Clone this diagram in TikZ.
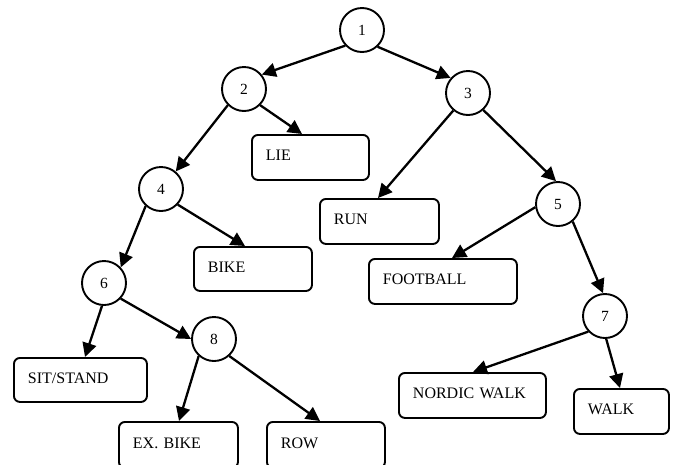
\documentclass[tikz,border=0pt]{standalone}
\usepackage{fontspec}
\setmainfont{Liberation Serif}
\usetikzlibrary{arrows.meta}
\tikzset{
  circ/.style={circle,draw,line width=1.9pt,minimum size=44pt,inner sep=0pt,font=\fontsize{15.5}{18}\selectfont},
  leaf/.style={draw,line width=1.9pt,rounded corners=6pt,anchor=north west,align=left,
    inner xsep=14pt,inner ysep=0pt,text height=10.5pt,text depth=4pt,font=\fontsize{16}{19}\selectfont},
  edge/.style={line width=2.3pt,-{Triangle[length=14pt,width=14pt]}}
}
\newcommand{\leafnode}[5]{\node[leaf,text width=#4pt-28pt,minimum height=#5pt] (#1) at #2 {#3};}
\begin{document}
\begin{tikzpicture}[x=1pt,y=-1pt]
\useasboundingbox (0,0) rectangle (674,464);
% circles
\node[circ] (n1) at (362,30) {1};
\node[circ] (n2) at (244,89) {2};
\node[circ] (n3) at (468,93) {3};
\node[circ] (n4) at (161,189) {4};
\node[circ] (n5) at (558,204) {5};
\node[circ] (n6) at (104,283) {6};
\node[circ] (n7) at (605,316) {7};
\node[circ] (n8) at (214,339) {8};
% leaves
\leafnode{lie}{(251,134)}{LIE}{117}{45}
\leafnode{run}{(319,198)}{RUN}{119}{45}
\leafnode{bike}{(193,246)}{BIKE}{118}{44}
\leafnode{foot}{(368,258)}{FOOTBALL}{148}{45}
\leafnode{sit}{(13,357)}{SIT/STAND}{133}{44}
\leafnode{nw}{(398,372)}{NORDIC WALK}{147}{45}
\leafnode{walk}{(573,388)}{WALK}{95}{45}
\leafnode{ex}{(118,421)}{EX. BIKE}{119}{46}
\leafnode{row}{(266,421)}{ROW}{118}{46}
% edges
\draw[edge] (n1.223) -- (n2.39);
\draw[edge] (n1.-47) -- (n3.139);
\draw[edge] (n2.-45) -- ([xshift=51pt]lie.north west);
\draw[edge] (n2.225) -- (n4.50);
\draw[edge] (n3.230) -- ([xshift=59pt]run.north west);
\draw[edge] (n3.-48) -- (n5.95);
\draw[edge] (n4.228) -- (n6.43);
\draw[edge] (n4.-43) -- ([xshift=52pt]bike.north west);
\draw[edge] (n5.188) -- ([xshift=84pt]foot.north west);
\draw[edge] (n5.-50) -- (n7.95);
\draw[edge] (n6.-95) -- ([xshift=72pt]sit.north west);
\draw[edge] (n6.-43) -- (n8.180);
\draw[edge] (n7.223) -- ([xshift=75pt]nw.north west);
\draw[edge] (n7.-87) -- ([xshift=47pt]walk.north west);
\draw[edge] (n8.-132) -- ([xshift=61pt]ex.north west);
\draw[edge] (n8.-48) -- ([xshift=54pt]row.north west);
\end{tikzpicture}
\end{document}
